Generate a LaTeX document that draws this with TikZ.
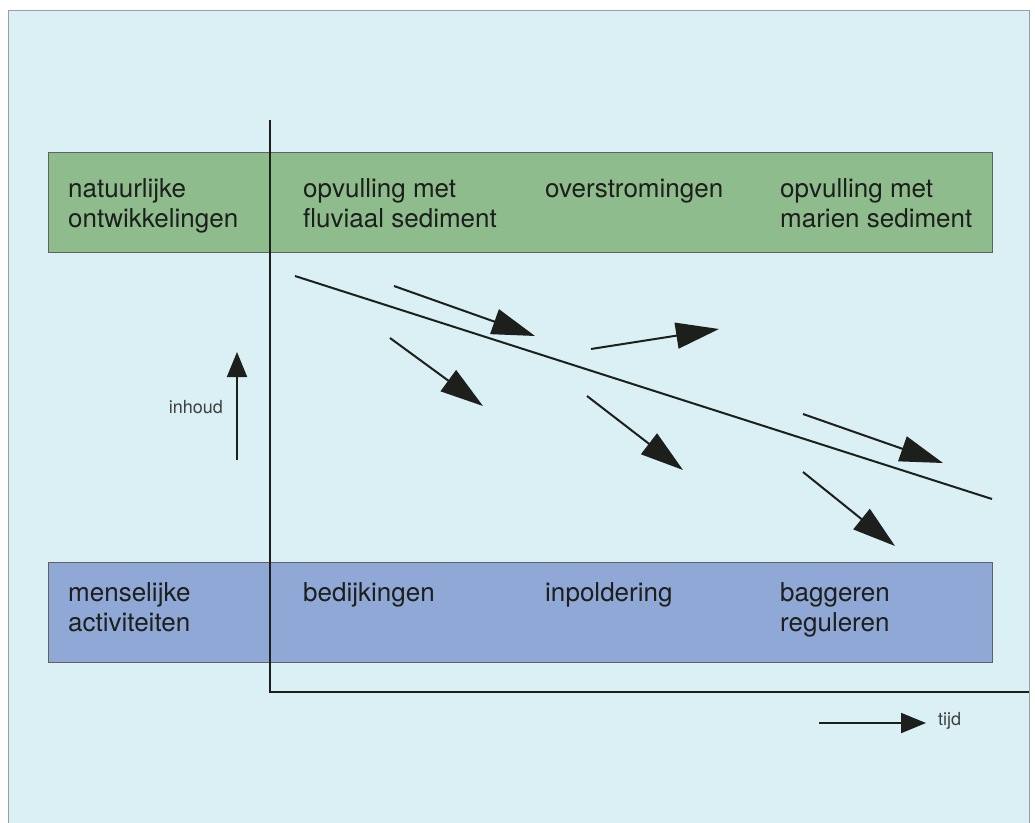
\documentclass[tikz,border=0pt]{standalone}
\usepackage{fontspec}
\setmainfont{TeX Gyre Heros}
\usetikzlibrary{arrows.meta}
\definecolor{bg}{HTML}{DAF0F5}
\definecolor{bandgreen}{HTML}{8FBC8C}
\definecolor{bandblue}{HTML}{8FA8D6}
\definecolor{ink}{HTML}{1C1F1C}
\definecolor{framegray}{HTML}{9A9E9E}
\tikzset{
  band/.style={draw=ink!70, line width=0.8pt},
  lbl/.style={anchor=base west, inner sep=0pt, align=left, text=ink,
    font=\fontsize{26}{30.5}\selectfont},
  smalllbl/.style={inner sep=0pt, text=ink!85, font=\fontsize{18}{20}\selectfont},
  axis/.style={draw=ink, line width=2pt},
  trend/.style={draw=ink, line width=2pt},
  bigarrow/.style={draw=ink, line width=2pt, -{Triangle[length=43pt,width=26pt]}},
  axarrow/.style={draw=ink, line width=2pt, -{Triangle[length=25pt,width=20pt]}}
}
\begin{document}
\begin{tikzpicture}[x=1pt,y=-1pt]
\useasboundingbox (0,0) rectangle (1035,822);
\fill[white] (0,0) rectangle (1035,822);
\draw[framegray, fill=bg, line width=1pt] (8,10) rectangle (1029,830);
% bands
\path[band, fill=bandgreen] (48,152) rectangle (992,252);
\path[band, fill=bandblue] (48,562) rectangle (992,662);
% labels green band (base anchor = baseline of last line)
\node[lbl] (nat) at (68,227.5) {natuurlijke\\ontwikkelingen};
\node[lbl] (fluv) at (303,227.5) {opvulling met\\fluviaal sediment};
\node[lbl] (over) at (545,197) {overstromingen};
\node[lbl] (mar) at (780,227.5) {opvulling met\\marien sediment};
% labels blue band
\node[lbl] (mens) at (68,631.5) {menselijke\\activiteiten};
\node[lbl] (bed) at (303,601) {bedijkingen};
\node[lbl] (inp) at (545,601) {inpoldering};
\node[lbl] (bag) at (780,631.5) {baggeren\\reguleren};
% axes
\coordinate (ytop) at (270,120);
\coordinate (orig) at (270,692);
\coordinate (xend) at (1029,692);
\draw[axis] (ytop) -- (orig) -- (xend);
% trend line
\coordinate (t1) at (295,276);
\coordinate (t2) at (992,499);
\draw[trend] (t1) -- (t2);
% arrows
\coordinate (a1s) at (394,286); \coordinate (a1e) at (535,336);
\coordinate (a2s) at (591,349); \coordinate (a2e) at (719,329);
\coordinate (a3s) at (390,338); \coordinate (a3e) at (483,406);
\coordinate (a4s) at (587,396); \coordinate (a4e) at (683,470);
\coordinate (a5s) at (803,414); \coordinate (a5e) at (943,463);
\coordinate (a6s) at (803,472); \coordinate (a6e) at (895,546);
\draw[bigarrow] (a1s) -- (a1e);
\draw[bigarrow] (a2s) -- (a2e);
\draw[bigarrow] (a3s) -- (a3e);
\draw[bigarrow] (a4s) -- (a4e);
\draw[bigarrow] (a5s) -- (a5e);
\draw[bigarrow] (a6s) -- (a6e);
% inhoud
\coordinate (ibot) at (237,460);
\coordinate (itop) at (237,352);
\draw[axarrow] (ibot) -- (itop);
\node[smalllbl, anchor=east] (inh) at (223,407) {inhoud};
% tijd
\coordinate (tl) at (819,723);
\coordinate (tr) at (926,723);
\draw[axarrow] (tl) -- (tr);
\node[smalllbl, anchor=west] (tijd) at (938,721) {tijd};
\end{tikzpicture}
\end{document}
